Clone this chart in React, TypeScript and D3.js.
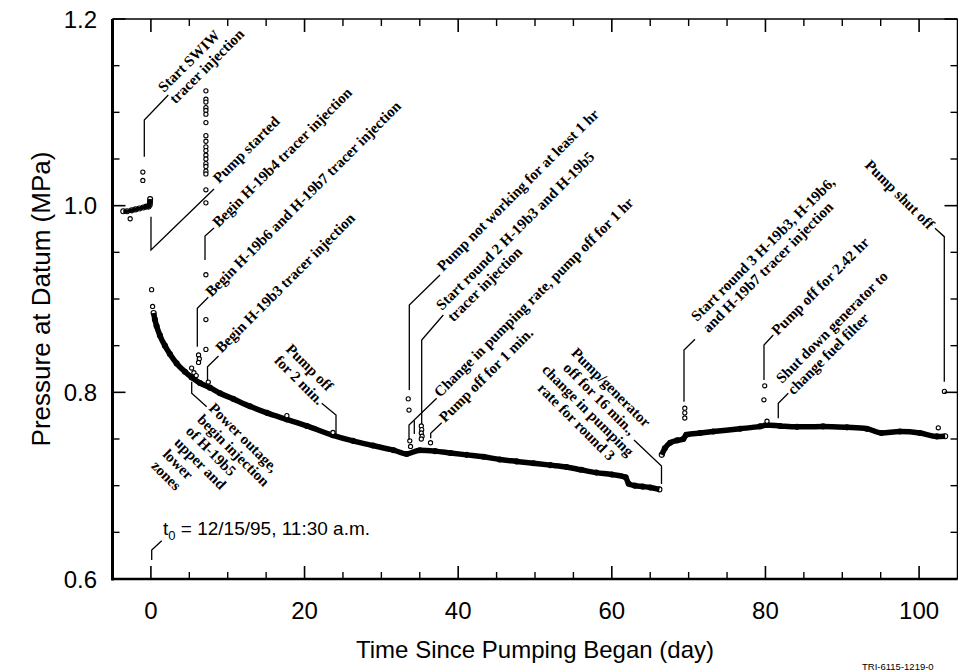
import React from 'react';
import * as d3 from 'd3';

const W = 958;
const H = 672;

// axis ticks
const xMajorTicks = [0, 20, 40, 60, 80, 100];
const xMinorTicks = [5, 10, 15, 25, 30, 35, 45, 50, 55, 65, 70, 75, 85, 90, 95];
const yMajorTicks = [0.6, 0.8, 1.0, 1.2];
const yTickLabels = ['0.6', '0.8', '1.0', '1.2'];
const yMinorTicks = [0.65, 0.7, 0.75, 0.85, 0.9, 0.95, 1.05, 1.1, 1.15];

// pre-pumping readings
const preDays = [-3.6, -3.1, -2.5, -2.0, -1.5, -1.0, -0.6, -0.3, -0.15, -0.12, -0.1];
const prePressure = [0.994, 0.994, 0.995, 0.996, 0.997, 0.998, 0.999, 0.999, 1.001, 1.004, 1.007];

// dense pumping record, day 0 to pump/generator stop
const bandDays = [0.35, 0.52, 0.74, 1.17, 1.82, 2.47, 3.35, 4.43, 5.3, 6.38, 7.68, 9.0, 10.7, 12.9, 15.1, 17.7, 20.3, 23.7, 26.3, 28.9, 31.6, 33.3, 35, 37, 39, 41.1, 43.3, 45.4, 47.6, 49.8, 52, 54.1, 56, 58, 60, 61.8, 62.2, 63, 64, 65, 66.2];
const bandPressure = [0.885, 0.878, 0.871, 0.861, 0.85, 0.841, 0.831, 0.822, 0.816, 0.81, 0.805, 0.799, 0.793, 0.785, 0.778, 0.771, 0.764, 0.754, 0.748, 0.743, 0.738, 0.734, 0.738, 0.737, 0.735, 0.733, 0.731, 0.728, 0.726, 0.724, 0.722, 0.72, 0.717, 0.714, 0.712, 0.709, 0.702, 0.7, 0.699, 0.698, 0.696];

// round 3 record
const recoveryDays = [66.5, 66.9, 67.6, 68.5, 69.3, 69.7, 71.5, 73.2, 76.7, 79.3, 80.2, 81.9, 84.1, 87.5, 90.6, 93.2, 95.1, 97.5, 100.1, 102.3, 103.4];
const recoveryPressure = [0.733, 0.74, 0.746, 0.7485, 0.75, 0.7546, 0.7564, 0.758, 0.761, 0.7635, 0.765, 0.764, 0.763, 0.7635, 0.7625, 0.761, 0.7565, 0.758, 0.7565, 0.7528, 0.753];

// isolated readings
const scatterDays = [-2.7, -1.05, -1.05, 0.09, 0.22,
  7.16, 7.16, 7.16, 7.16, 7.16, 7.16, 7.16, 7.16, 7.16, 7.16, 7.16, 7.16, 7.16, 7.16, 7.16, 7.16, 7.16, 7.16, 7.16, 7.16, 7.16, 7.16,
  6.2, 6.3, 6.2, 5.3, 5.6, 5.9, 7.47, 17.7, 23.7,
  33.5, 33.6, 33.7, 33.8, 35.2, 35.25, 35.2, 35.3, 35.2, 36.4,
  69.5, 69.5, 69.5, 79.9, 79.8, 80.2, 102.5, 103.3];
const scatterPressure = [0.986, 1.036, 1.027, 0.91, 0.892,
  1.123, 1.114, 1.111, 1.105, 1.102, 1.098, 1.089, 1.075, 1.069, 1.063, 1.059, 1.054, 1.05, 1.045, 1.042, 1.037, 1.034, 1.017, 1.003, 0.926, 0.878, 0.846,
  0.84, 0.836, 0.832, 0.826, 0.821, 0.818, 0.811, 0.775, 0.757,
  0.793, 0.781, 0.748, 0.742, 0.764, 0.76, 0.7565, 0.753, 0.75, 0.746,
  0.783, 0.778, 0.7725, 0.807, 0.792, 0.769, 0.762, 0.801];

type Ann = {
  path: [number, number][];
  extra?: [number, number][];
  at: [number, number];
  rot: number;
  anchor?: string;
  lines: string[];
};

const annotations: Ann[] = [
  { path: [[-0.86, 1.0525], [-0.86, 1.0918], [2.265, 1.1186]], at: [1.705, 1.1207], rot: -45, lines: ['Start SWIW', 'tracer injection'] },
  { path: [[0.01, 0.9882], [0.01, 0.9525], [8.214, 1.0179]], at: [8.865, 1.0232], rot: -45, lines: ['Pump started'] },
  { path: [[7.042, 0.9418], [7.042, 0.9675], [8.214, 0.9761]], at: [8.8, 0.9761], rot: -45, lines: ['Begin H-19b4 tracer injection'] },
  { path: [[6.04, 0.8489], [6.04, 0.89], [7.472, 0.9018]], at: [7.889, 0.9016], rot: -45, lines: ['Begin H-19b6 and H-19b7 tracer injection'] },
  { path: [[7.368, 0.8121], [7.368, 0.8275], [8.8, 0.8389]], at: [9.19, 0.8416], rot: -45, lines: ['Begin H-19b3 tracer injection'] },
  { path: [[5.311, 0.8114], [5.311, 0.799], [7.264, 0.7846]], at: [7.433, 0.7821], rot: 45, lines: ['Power outage,', 'begin injection', 'of H-19b5', 'upper and', 'lower', 'zones'] },
  { path: [[24.095, 0.7543], [24.095, 0.7757], [22.234, 0.7883]], at: [17.457, 0.8454], rot: 45, lines: ['Pump off', 'for 2 min.'] },
  { path: [[33.637, 0.8025], [33.637, 0.8936], [37.633, 0.9257]], at: [38.024, 0.9289], rot: -45, lines: ['Pump not working for at least 1 hr'] },
  { path: [[35.251, 0.7661], [35.251, 0.8561], [38.063, 0.8829]], at: [37.894, 0.8872], rot: -45, lines: ['Start round 2 H-19b3 and H-19b5', 'tracer injection'] },
  { path: [[33.598, 0.7489], [33.598, 0.765], [37.204, 0.7936]], extra: [[34.288, 0.7698], [34.288, 0.7554]], at: [37.633, 0.7939], rot: -45, lines: ['Change in pumping rate, pump off for 1 hr'] },
  { path: [[36.423, 0.7508], [36.423, 0.7561], [37.855, 0.7675]], at: [38.284, 0.7671], rot: -45, lines: ['Pump off for 1 min.'] },
  { path: [[66.467, 0.7018], [66.467, 0.7211], [62.887, 0.7489]], at: [59.438, 0.8016], rot: 45, anchor: 'middle', lines: ['Pump/generator', 'off for 16 min.,', 'change in pumping', 'rate for round 3'] },
  { path: [[69.396, 0.79], [69.396, 0.8454], [70.828, 0.8568]], at: [71.09, 0.8754], rot: -45, lines: ['Start round 3 H-19b3, H-19b6,', 'and H-19b7 tracer injection'] },
  { path: [[79.81, 0.8132], [79.81, 0.8507], [81.02, 0.8614]], at: [81.57, 0.8604], rot: -45, lines: ['Pump off for 2.42 hr'] },
  { path: [[81.67, 0.7722], [81.67, 0.7883], [82.97, 0.799]], at: [82.15, 0.8089], rot: -45, lines: ['Shut down generator to', 'change fuel filter'] },
  { path: [[103.28, 0.8114], [103.28, 0.9668], [102.07, 0.9758]], at: [92.83, 1.0425], rot: 45, lines: ['Pump shut off'] },
];

const t0Leader: [number, number][] = [[0.104, 0.6204], [0.104, 0.6311], [1.406, 0.641]];
const t0At: [number, number] = [1.575, 0.6471];

const SANS = '"Liberation Sans", Arial, Helvetica, sans-serif';
const SERIF = '"Liberation Serif", "Times New Roman", serif';

export default function App() {
  const left = 112.5, right = 957.5, top = 19, bottom = 579;
  const x = d3.scaleLinear().domain([-5, 105]).range([left, right]);
  const y = d3.scaleLinear().domain([0.6, 1.2]).range([bottom, top]);
  const line = d3.line<[number, number]>().x(d => x(d[0])).y(d => y(d[1])).curve(d3.curveMonotoneX);
  const poly = d3.line<[number, number]>().x(d => x(d[0])).y(d => y(d[1]));

  const pre = preDays.map((d, i) => [d, prePressure[i]] as [number, number]);
  const band = bandDays.map((d, i) => [d, bandPressure[i]] as [number, number]);
  const rec = recoveryDays.map((d, i) => [d, recoveryPressure[i]] as [number, number]);
  const pts = scatterDays.map((d, i) => [d, scatterPressure[i]] as [number, number]);

  const lineH = 16.3;

  return (
    <svg width={W} height={H} style={{ position: 'absolute', left: 0, top: 0, background: '#fff' }}>
      <rect x={0} y={0} width={W} height={H} fill="#fff" />
      {/* data */}
      <path d={line(pre) || ''} fill="none" stroke="#000" strokeWidth={3.5} />
      <path d={line(band) || ''} fill="none" stroke="#000" strokeWidth={5.5} strokeLinejoin="round" />
      <path d={line(rec) || ''} fill="none" stroke="#000" strokeWidth={5.5} strokeLinejoin="round" />
      {[...pre, ...band, ...rec].map((p, i) => (
        <circle key={'b' + i} cx={x(p[0])} cy={y(p[1])} r={2.5} fill="none" stroke="#000" strokeWidth={1.1} />
      ))}
      {pts.map((p, i) => (
        <circle key={'s' + i} cx={x(p[0])} cy={y(p[1])} r={2.1} fill="#fff" stroke="#000" strokeWidth={1.1} />
      ))}

      {/* annotations */}
      {annotations.map((a, i) => (
        <g key={'a' + i}>
          <path d={poly(a.path) || ''} fill="none" stroke="#000" strokeWidth={1.3} />
          {a.extra && <path d={poly(a.extra) || ''} fill="none" stroke="#000" strokeWidth={1.3} />}
          <text
            transform={`translate(${x(a.at[0])},${y(a.at[1])}) rotate(${a.rot})`}
            fontFamily={SERIF}
            fontWeight="bold"
            fontSize={15}
            textAnchor={a.anchor || 'start'}
            fill="#000"
          >
            {a.lines.map((l, j) => (
              <tspan key={j} x={0} dy={j === 0 ? 0 : lineH}>{l}</tspan>
            ))}
          </text>
        </g>
      ))}
      <path d={poly(t0Leader) || ''} fill="none" stroke="#000" strokeWidth={1.3} />
      <text x={x(t0At[0])} y={y(t0At[1])} fontFamily={SANS} fontSize={19} fill="#000">
        t<tspan dy={5} fontSize={13}>0</tspan><tspan dy={-5}> = 12/15/95, 11:30 a.m.</tspan>
      </text>

      {/* frame */}
      <line x1={left} x2={left} y1={top} y2={bottom + 1.5} stroke="#000" strokeWidth={3} />
      <line x1={left} x2={right} y1={bottom} y2={bottom} stroke="#000" strokeWidth={2.5} />
      <line x1={left} x2={right} y1={top} y2={top} stroke="#000" strokeWidth={1.5} />
      <line x1={right} x2={right} y1={top} y2={bottom} stroke="#000" strokeWidth={1.5} />

      {/* ticks */}
      {xMajorTicks.map(t => (
        <g key={'xm' + t}>
          <line x1={x(t)} x2={x(t)} y1={bottom} y2={bottom - 13} stroke="#000" strokeWidth={1.6} />
          <line x1={x(t)} x2={x(t)} y1={top} y2={top + 13} stroke="#000" strokeWidth={1.6} />
          <text x={x(t)} y={619} textAnchor="middle" fontFamily={SANS} fontSize={24} fill="#000">{t}</text>
        </g>
      ))}
      {xMinorTicks.map(t => (
        <g key={'xn' + t}>
          <line x1={x(t)} x2={x(t)} y1={bottom} y2={bottom - 7} stroke="#000" strokeWidth={1.4} />
          <line x1={x(t)} x2={x(t)} y1={top} y2={top + 7} stroke="#000" strokeWidth={1.4} />
        </g>
      ))}
      {yMajorTicks.map((t, i) => (
        <g key={'ym' + t}>
          <line x1={left} x2={left + 13} y1={y(t)} y2={y(t)} stroke="#000" strokeWidth={1.6} />
          <line x1={right} x2={right - 13} y1={y(t)} y2={y(t)} stroke="#000" strokeWidth={1.6} />
          <text x={97} y={y(t) + 8.5} textAnchor="end" fontFamily={SANS} fontSize={24} fill="#000">{yTickLabels[i]}</text>
        </g>
      ))}
      {yMinorTicks.map(t => (
        <g key={'yn' + t}>
          <line x1={left} x2={left + 7} y1={y(t)} y2={y(t)} stroke="#000" strokeWidth={1.4} />
          <line x1={right} x2={right - 7} y1={y(t)} y2={y(t)} stroke="#000" strokeWidth={1.4} />
        </g>
      ))}

      {/* axis titles */}
      <text x={(left + right) / 2} y={658} textAnchor="middle" fontFamily={SANS} fontSize={24} fill="#000">
        Time Since Pumping Began (day)
      </text>
      <text transform={`translate(50,${(top + bottom) / 2}) rotate(-90)`} textAnchor="middle" fontFamily={SANS} fontSize={26} fill="#000">
        Pressure at Datum (MPa)
      </text>
      <text x={862} y={670} fontFamily={SANS} fontSize={9.5} fill="#000">TRI-6115-1219-0</text>
    </svg>
  );
}
